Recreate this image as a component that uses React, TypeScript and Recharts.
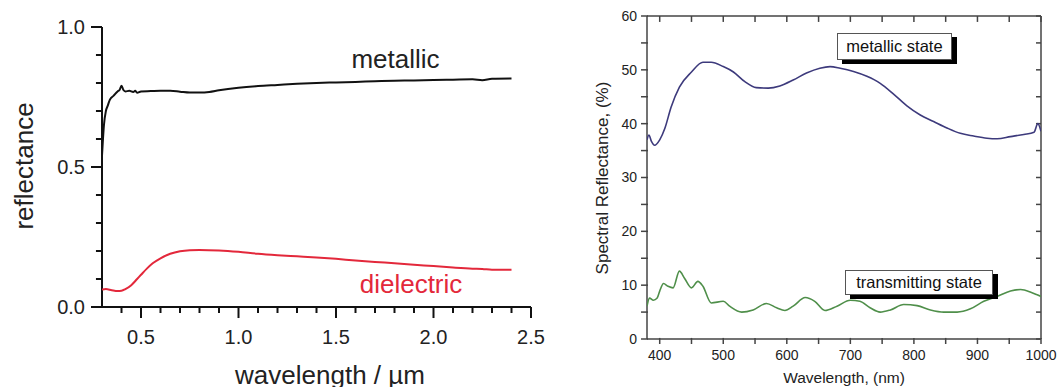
import { LineChart, Line, XAxis, YAxis, ReferenceLine, ReferenceDot } from 'recharts';

const FONT = '"Liberation Sans", Arial, sans-serif';

// left panel: reflectance vs wavelength (µm)
const metallicWl = [0.3, 0.305, 0.31, 0.32, 0.33, 0.34, 0.36, 0.38, 0.39, 0.4, 0.41, 0.42, 0.44, 0.46, 0.47, 0.48, 0.5, 0.55, 0.6, 0.65, 0.7, 0.75, 0.8, 0.85, 0.9, 1.0, 1.1, 1.2, 1.3, 1.4, 1.5, 1.6, 1.7, 1.8, 1.9, 2.0, 2.1, 2.2, 2.25, 2.3, 2.4];
const metallicR = [0.54, 0.6, 0.65, 0.7, 0.72, 0.74, 0.755, 0.77, 0.775, 0.79, 0.775, 0.77, 0.772, 0.768, 0.772, 0.765, 0.77, 0.771, 0.772, 0.772, 0.769, 0.766, 0.766, 0.768, 0.774, 0.783, 0.789, 0.793, 0.797, 0.8, 0.802, 0.804, 0.806, 0.808, 0.809, 0.811, 0.812, 0.813, 0.81, 0.815, 0.816];
const dielectricWl = [0.3, 0.32, 0.35, 0.38, 0.4, 0.42, 0.45, 0.48, 0.5, 0.53, 0.56, 0.6, 0.65, 0.7, 0.75, 0.8, 0.9, 1.0, 1.1, 1.2, 1.3, 1.4, 1.5, 1.6, 1.7, 1.8, 1.9, 2.0, 2.1, 2.2, 2.25, 2.3, 2.4];
const dielectricR = [0.062, 0.064, 0.06, 0.057, 0.058, 0.064, 0.078, 0.1, 0.115, 0.137, 0.156, 0.174, 0.19, 0.199, 0.203, 0.204, 0.202, 0.197, 0.19, 0.185, 0.181, 0.177, 0.172, 0.166, 0.161, 0.156, 0.151, 0.146, 0.141, 0.137, 0.136, 0.133, 0.133];
const leftXMajor = [0.5, 1.0, 1.5, 2.0, 2.5];
const leftXMinor = [0.4, 0.6, 0.7, 0.8, 0.9, 1.1, 1.2, 1.3, 1.4, 1.6, 1.7, 1.8, 1.9, 2.1, 2.2, 2.3, 2.4];
const leftYMajor = [0, 0.5, 1.0];
const leftYMinor = [0.1, 0.2, 0.3, 0.4, 0.6, 0.7, 0.8, 0.9];

// right panel: spectral reflectance (%) vs wavelength (nm)
const metalStateWl = [380, 383, 387, 392, 400, 408, 418, 431, 450, 468, 481, 500, 516, 534, 552, 571, 589, 610, 631, 652, 668, 684, 705, 726, 747, 768, 789, 810, 831, 852, 873, 894, 915, 931, 952, 973, 989, 995, 1000];
const metalStateR = [37.0, 37.9, 36.7, 36.0, 37.0, 39.1, 43.1, 46.8, 49.6, 51.4, 51.4, 50.6, 49.6, 47.8, 46.7, 46.6, 47.0, 48.1, 49.4, 50.3, 50.6, 50.3, 49.7, 48.8, 47.5, 45.5, 43.3, 41.6, 40.4, 39.2, 38.2, 37.7, 37.3, 37.2, 37.6, 38.0, 38.4, 40.0, 38.6];
const transStateWl = [380, 384, 390, 396, 400, 406, 413, 421, 431, 439, 450, 460, 468, 481, 500, 510, 529, 547, 568, 584, 597, 610, 629, 644, 660, 679, 700, 715, 731, 747, 763, 784, 805, 826, 847, 868, 889, 910, 931, 952, 968, 984, 994, 1000];
const transStateR = [6.1, 7.6, 7.2, 7.6, 8.9, 10.3, 9.8, 9.5, 12.6, 11.3, 9.5, 10.7, 9.8, 6.7, 7.0, 6.1, 5.0, 5.4, 6.6, 5.8, 5.3, 6.1, 7.7, 7.0, 5.3, 6.1, 7.2, 7.0, 5.8, 5.0, 5.4, 6.4, 6.2, 5.4, 5.0, 5.0, 5.6, 7.0, 7.9, 8.9, 9.2, 8.7, 8.2, 7.9];
const rightXTicks = [400, 450, 500, 550, 600, 650, 700, 750, 800, 850, 900, 950, 1000];
const rightXLabels = [400, 500, 600, 700, 800, 900, 1000];
const rightYTicks = [0, 5, 10, 15, 20, 25, 30, 35, 40, 45, 50, 55, 60];
const rightYLabels = [0, 10, 20, 30, 40, 50, 60];

const metallic = metallicWl.map((x, i) => ({ x, r: metallicR[i] }));
const dielectric = dielectricWl.map((x, i) => ({ x, r: dielectricR[i] }));
const metalState = metalStateWl.map((x, i) => ({ x, r: metalStateR[i] }));
const transState = transStateWl.map((x, i) => ({ x, r: transStateR[i] }));

const LEFT_X = [0.3, 2.5];
const LEFT_Y = [0, 1];
const RIGHT_X = [380, 1000];
const RIGHT_Y = [0, 60];

// one chart holds both panels; each panel gets its own hidden axis pair squeezed by padding
const L = { xAxisId: 'lx', yAxisId: 'ly' };
const R = { xAxisId: 'rx', yAxisId: 'ry' };

type P = { x: number; y: number };
const seg = (key: string, ids: typeof L, a: P, b: P, color: string, w: number) => (
  <ReferenceLine key={key} {...ids} segment={[a, b]} ifOverflow="visible" stroke={color} strokeWidth={w} />
);
const tickLabel = (key: string, ids: typeof L, p: P, text: string, position: 'bottom' | 'left', offset: number, size: number) => (
  <ReferenceDot key={key} {...ids} x={p.x} y={p.y} r={0} fill="none" stroke="none" ifOverflow="visible"
    label={{ value: text, position, offset, fontSize: size, fill: '#222', fontFamily: FONT }} />
);

// text placed by its centre point
const Txt = ({ cx, cy, size, color = '#222', rotate = false, children }: any) => (
  <div style={{
    position: 'absolute', left: cx, top: cy, fontSize: size, lineHeight: 1, color, whiteSpace: 'nowrap',
    transform: `translate(-50%, -50%)${rotate ? ' rotate(-90deg)' : ''}`,
  }}>{children}</div>
);

const Box = ({ left, top, width, height, children }: any) => (
  <div style={{
    position: 'absolute', left, top, width, height, boxSizing: 'border-box', background: '#fff',
    border: '1px solid #555', boxShadow: '5px 4px 0 #000', display: 'flex', alignItems: 'center',
    justifyContent: 'center', fontSize: 16.5, color: '#111', whiteSpace: 'nowrap',
  }}>{children}</div>
);

export default function App() {
  const LC = '#111';
  const RC = '#444';
  return (
    <div style={{ position: 'absolute', left: 0, top: 0, width: 1058, height: 387, background: '#fff', fontFamily: FONT, overflow: 'hidden' }}>
      <LineChart width={1058} height={387} margin={{ top: 16, right: 17, bottom: 48, left: 102 }}>
        <XAxis xAxisId="lx" dataKey="x" type="number" domain={LEFT_X} allowDataOverflow hide padding={{ left: 0, right: 510 }} />
        <YAxis yAxisId="ly" type="number" domain={LEFT_Y} allowDataOverflow hide padding={{ top: 11, bottom: 32 }} />
        <XAxis xAxisId="rx" dataKey="x" type="number" domain={RIGHT_X} allowDataOverflow hide padding={{ left: 545, right: 0 }} />
        <YAxis yAxisId="ry" type="number" domain={RIGHT_Y} allowDataOverflow hide />

        {/* left panel axes */}
        {seg('lax', L, { x: LEFT_X[0], y: 0 }, { x: LEFT_X[1], y: 0 }, LC, 2)}
        {seg('lay', L, { x: LEFT_X[0], y: 0 }, { x: LEFT_X[0], y: LEFT_Y[1] }, LC, 2)}
        {leftXMajor.map((v) => seg(`lxM${v}`, L, { x: v, y: 0 }, { x: v, y: -0.0394 }, LC, 2))}
        {leftXMinor.map((v) => seg(`lxm${v}`, L, { x: v, y: 0 }, { x: v, y: -0.0215 }, LC, 2))}
        {leftYMajor.map((v) => seg(`lyM${v}`, L, { x: LEFT_X[0], y: v }, { x: LEFT_X[0] - 0.0564, y: v }, LC, 2))}
        {leftYMinor.map((v) => seg(`lym${v}`, L, { x: LEFT_X[0], y: v }, { x: LEFT_X[0] - 0.031, y: v }, LC, 2))}
        {leftXMajor.map((v) => tickLabel(`lxl${v}`, L, { x: v, y: 0 }, v.toFixed(1), 'bottom', 23, 20))}
        {leftYMajor.map((v) => tickLabel(`lyl${v}`, L, { x: LEFT_X[0], y: v }, v.toFixed(1), 'left', 17, 20))}

        {/* right panel frame */}
        {seg('rb', R, { x: RIGHT_X[0], y: 0 }, { x: RIGHT_X[1], y: 0 }, RC, 1.5)}
        {seg('rt', R, { x: RIGHT_X[0], y: RIGHT_Y[1] }, { x: RIGHT_X[1], y: RIGHT_Y[1] }, RC, 1.5)}
        {seg('rl', R, { x: RIGHT_X[0], y: 0 }, { x: RIGHT_X[0], y: RIGHT_Y[1] }, RC, 1.5)}
        {seg('rr', R, { x: RIGHT_X[1], y: 0 }, { x: RIGHT_X[1], y: RIGHT_Y[1] }, RC, 1.5)}
        {rightXTicks.map((v) => seg(`rxb${v}`, R, { x: v, y: 0.2 }, { x: v, y: -0.93 }, RC, 1.5))}
        {rightXTicks.map((v) => seg(`rxt${v}`, R, { x: v, y: RIGHT_Y[1] }, { x: v, y: RIGHT_Y[1] - 1.1 }, RC, 1.5))}
        {rightYTicks.map((v) => seg(`ryl${v}`, R, { x: RIGHT_X[0] + 1.5, y: v }, { x: RIGHT_X[0] - 9.4, y: v }, RC, 1.5))}
        {rightYTicks.map((v) => seg(`ryr${v}`, R, { x: RIGHT_X[1], y: v }, { x: RIGHT_X[1] - 7.9, y: v }, RC, 1.5))}
        {rightXLabels.map((v) => tickLabel(`rxl${v}`, R, { x: v, y: 0 }, String(v), 'bottom', 11, 14))}
        {rightYLabels.map((v) => tickLabel(`ryl-${v}`, R, { x: RIGHT_X[0], y: v }, String(v), 'left', 10, 14))}

        <Line {...L} data={metallic} dataKey="r" type="monotone" stroke="#111" strokeWidth={2} dot={false} isAnimationActive={false} />
        <Line {...L} data={dielectric} dataKey="r" type="monotone" stroke="#e3283b" strokeWidth={2} dot={false} isAnimationActive={false} />
        <Line {...R} data={metalState} dataKey="r" type="monotone" stroke="#3d3a7c" strokeWidth={1.6} dot={false} isAnimationActive={false} />
        <Line {...R} data={transState} dataKey="r" type="monotone" stroke="#4f8f4a" strokeWidth={1.6} dot={false} isAnimationActive={false} />
      </LineChart>
      <Txt cx={24} cy={166} size={26} rotate>reflectance</Txt>
      <Txt cx={330} cy={375} size={26}>wavelength / µm</Txt>
      <Txt cx={395.5} cy={59} size={26}>metallic</Txt>
      <Txt cx={411} cy={284} size={26} color="#e3283b">dielectric</Txt>
      <Txt cx={602} cy={177.5} size={17} rotate>Spectral Reflectance, (%)</Txt>
      <Txt cx={844} cy={377.5} size={15.5}>Wavelength, (nm)</Txt>
      <Box left={837} top={32.5} width={115} height={27}>metallic state</Box>
      <Box left={845} top={270} width={148} height={25}>transmitting state</Box>
    </div>
  );
}
